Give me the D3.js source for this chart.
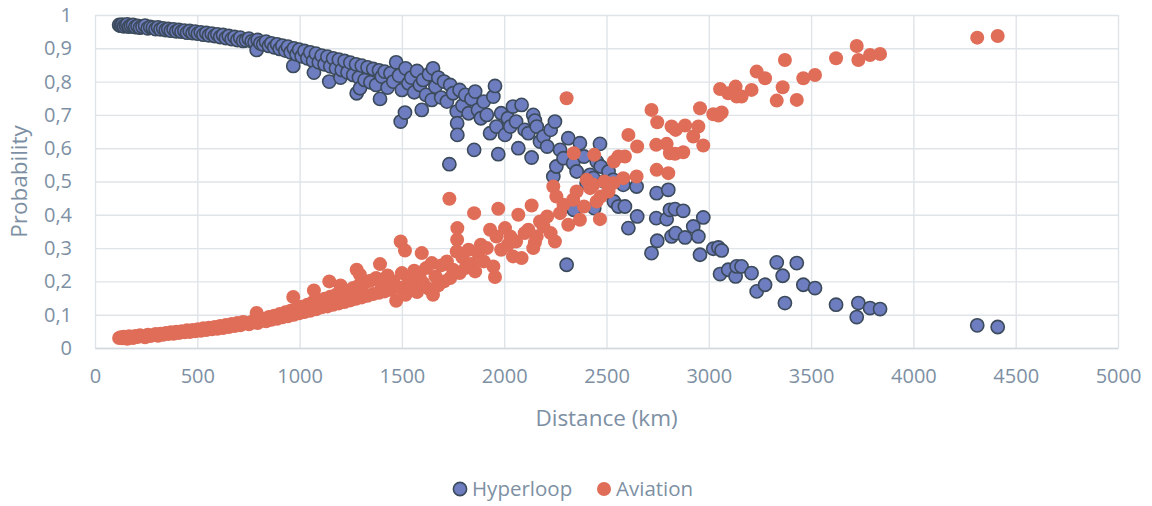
<!DOCTYPE html>
<html>
<head>
<meta charset="utf-8">
<script src="https://cdn.jsdelivr.net/npm/d3@7"></script>
<style>
  body { margin: 0; background: #fff; }
  text { font-family: "Open Sans", sans-serif; fill: #7d90a3; }
</style>
</head>
<body>
<div class="chart"></div>
<script>
// Data: distance (km) and choice probabilities per route
var distance = [
  118,126,133,141,150,158,167,176,186,197,
  208,220,232,245,258,270,283,296,308,320,
  333,346,358,371,384,397,410,423,437,450,
  463,477,490,503,517,530,544,557,571,585,
  598,612,626,640,654,668,682,696,710,724,
  738,752,766,780,790,795,808,822,836,850,
  862,876,890,903,916,930,943,956,969,972,
  985,998,1010,1024,1038,1052,1066,1070,1080,1094,
  1108,1122,1136,1145,1150,1164,1178,1192,1200,1206,
  1220,1234,1248,1262,1276,1279,1290,1295,1304,1318,
  1332,1346,1360,1374,1388,1393,1402,1416,1430,1444,
  1458,1472,1486,1494,1500,1515,1518,1532,1546,1560,
  1574,1588,1597,1604,1618,1632,1646,1652,1664,1678,
  1692,1706,1720,1732,1736,1750,1768,1770,1771,1782,
  1796,1810,1826,1840,1853,1858,1872,1886,1900,1915,
  1931,1947,1955,1962,1971,1985,2004,2018,2030,2043,
  2058,2069,2085,2100,2118,2134,2142,2150,2159,2175,
  2192,2210,2227,2240,2248,2255,2273,2290,2305,2313,
  2337,2340,2354,2370,2390,2403,2420,2436,2440,2452,
  2468,2472,2490,2510,2533,2536,2558,2582,2590,2607,
  2647,2650,2720,2743,2745,2748,2794,2802,2810,2818,
  2835,2838,2875,2884,2924,2949,2957,2973,3022,3047,
  3055,3063,3095,3131,3136,3160,3209,3234,3275,3332,
  3361,3372,3430,3462,3519,3622,3723,3731,3788,3837,
  4312,4412
];

var hyperloop = [
  .970,.968,.971,.966,.969,.972,.965,.968,.970,.964,
  .967,.962,.965,.968,.960,.964,.962,.958,.963,.957,
  .960,.955,.958,.953,.957,.951,.955,.950,.953,.947,
  .952,.946,.950,.944,.948,.941,.946,.939,.944,.937,
  .942,.934,.940,.931,.937,.928,.934,.925,.932,.922,
  .924,.929,.921,.918,.895,.925,.915,.912,.920,.907,
  .915,.903,.912,.898,.908,.893,.905,.888,.847,.900,
  .882,.896,.876,.892,.870,.888,.862,.827,.884,.858,
  .878,.852,.875,.800,.846,.870,.840,.866,.812,.835,
  .862,.828,.857,.820,.852,.765,.812,.780,.848,.805,
  .843,.798,.838,.790,.834,.748,.815,.830,.782,.825,
  .800,.858,.818,.680,.775,.707,.840,.795,.812,.768,
  .832,.790,.715,.805,.760,.822,.745,.840,.785,.812,
  .752,.800,.740,.552,.790,.765,.710,.675,.640,.775,
  .728,.760,.705,.748,.595,.770,.715,.690,.740,.700,
  .645,.755,.787,.665,.582,.705,.640,.690,.665,.725,
  .680,.600,.730,.655,.645,.572,.700,.683,.665,.620,
  .635,.605,.655,.515,.680,.545,.595,.570,.250,.630,
  .555,.415,.530,.615,.575,.495,.520,.510,.420,.560,
  .613,.545,.500,.530,.505,.440,.425,.490,.425,.360,
  .485,.395,.285,.390,.465,.322,.387,.475,.415,.335,
  .417,.345,.412,.332,.365,.335,.280,.392,.298,.302,
  .222,.293,.235,.215,.245,.245,.225,.170,.190,.257,
  .217,.135,.255,.190,.180,.130,.093,.135,.120,.117,
  .068,.063
];

var aviation = [
  .030,.032,.029,.034,.031,.028,.035,.032,.030,.036,
  .033,.038,.035,.032,.040,.036,.038,.042,.037,.043,
  .040,.045,.042,.047,.043,.049,.045,.050,.047,.053,
  .048,.054,.050,.056,.052,.059,.054,.061,.056,.063,
  .058,.066,.060,.069,.063,.072,.066,.075,.068,.078,
  .076,.071,.079,.082,.105,.075,.085,.088,.080,.093,
  .085,.097,.088,.102,.092,.107,.095,.112,.153,.100,
  .118,.104,.124,.108,.130,.112,.138,.173,.116,.142,
  .122,.148,.125,.200,.154,.130,.160,.134,.188,.165,
  .138,.172,.143,.180,.148,.235,.188,.220,.152,.195,
  .157,.202,.162,.210,.166,.252,.185,.170,.218,.175,
  .200,.142,.182,.320,.225,.293,.160,.205,.188,.232,
  .168,.210,.285,.195,.240,.178,.255,.160,.215,.188,
  .248,.200,.260,.448,.210,.235,.290,.325,.360,.225,
  .272,.240,.295,.252,.405,.230,.285,.310,.260,.300,
  .355,.245,.213,.335,.418,.295,.360,.310,.335,.275,
  .320,.400,.270,.345,.355,.428,.300,.317,.335,.380,
  .365,.395,.345,.485,.320,.455,.405,.430,.750,.370,
  .445,.585,.470,.385,.425,.505,.480,.490,.580,.440,
  .387,.455,.500,.470,.495,.560,.575,.510,.575,.640,
  .515,.605,.715,.610,.535,.678,.613,.525,.585,.665,
  .583,.655,.588,.668,.635,.665,.720,.608,.702,.698,
  .778,.707,.765,.785,.755,.755,.775,.830,.810,.743,
  .783,.865,.745,.810,.820,.870,.907,.865,.880,.883,
  .932,.937
];

var xTicks = [0, 500, 1000, 1500, 2000, 2500, 3000, 3500, 4000, 4500, 5000];
var yTicks = [0, 0.1, 0.2, 0.3, 0.4, 0.5, 0.6, 0.7, 0.8, 0.9, 1];
var seriesNames = ["Hyperloop", "Aviation"];

var svgWidth = 1152;
var svgHeight = 506;
var margin = { top: 15, right: 34, bottom: 158, left: 95 };
var chartWidth = svgWidth - margin.left - margin.right;
var chartHeight = svgHeight - margin.top - margin.bottom;

var svg = d3.select(".chart").append("svg")
  .attr("width", svgWidth)
  .attr("height", svgHeight);

var chartGroup = svg.append("g")
  .attr("transform", `translate(${margin.left}, ${margin.top})`);

var xScale = d3.scaleLinear().domain([0, 5000]).range([0, chartWidth]);
var yScale = d3.scaleLinear().domain([0, 1]).range([chartHeight, 0]);

// gridlines
chartGroup.append("g")
  .call(d3.axisBottom(xScale).tickValues(xTicks).tickSize(-chartHeight).tickFormat(""))
  .attr("transform", `translate(0, ${chartHeight})`)
  .call(g => g.select(".domain").remove())
  .selectAll("line").attr("stroke", "#dfe4e9").attr("stroke-width", 1.4);

chartGroup.append("g")
  .call(d3.axisLeft(yScale).tickValues(yTicks).tickSize(-chartWidth).tickFormat(""))
  .call(g => g.select(".domain").remove())
  .selectAll("line").attr("stroke", "#dfe4e9").attr("stroke-width", 1.4);

// bottom axis with labels (no thousands separator)
var bottomAxis = chartGroup.append("g")
  .attr("transform", `translate(0, ${chartHeight})`)
  .call(d3.axisBottom(xScale).tickValues(xTicks).tickSize(0).tickPadding(21)
    .tickFormat(d => String(d)));
bottomAxis.select(".domain").attr("stroke", "#d3d9df").attr("stroke-width", 1.6);
bottomAxis.selectAll("text").style("font-size", "20px").attr("fill", "#7d90a3");

// left axis, comma as decimal mark
var leftAxis = chartGroup.append("g")
  .call(d3.axisLeft(yScale).tickValues(yTicks).tickSize(0).tickPadding(23)
    .tickFormat(d => String(d3.format("~g")(d)).replace(".", ",")));
leftAxis.select(".domain").remove();
leftAxis.selectAll("text").style("font-size", "20px").attr("fill", "#7d90a3");

// points
var points = distance.map((d, i) => ({ d: d, h: hyperloop[i], a: aviation[i] }));

chartGroup.append("g").selectAll("circle")
  .data(points)
  .enter()
  .append("circle")
  .attr("cx", p => xScale(p.d))
  .attr("cy", p => yScale(p.h))
  .attr("r", 6.6)
  .attr("fill", "#6e7dbf")
  .attr("stroke", "#3c4b5c")
  .attr("stroke-width", 1.6);

chartGroup.append("g").selectAll("circle")
  .data(points)
  .enter()
  .append("circle")
  .attr("cx", p => xScale(p.d))
  .attr("cy", p => yScale(p.a))
  .attr("r", 7)
  .attr("fill", "#df6d58");

// axis titles
svg.append("text")
  .attr("x", margin.left + chartWidth / 2)
  .attr("y", 418)
  .attr("dy", "0.35em")
  .attr("text-anchor", "middle")
  .style("font-size", "22.5px")
  .text("Distance (km)");

svg.append("text")
  .attr("transform", `translate(19, ${margin.top + chartHeight / 2}) rotate(-90)`)
  .attr("dy", "0.35em")
  .attr("text-anchor", "middle")
  .style("font-size", "22.5px")
  .text("Probability");

// legend
var legend = svg.append("g");
legend.append("circle").attr("cx", 460).attr("cy", 489).attr("r", 6.6)
  .attr("fill", "#6e7dbf").attr("stroke", "#3c4b5c").attr("stroke-width", 1.6);
legend.append("text").attr("x", 472).attr("y", 489).attr("dy", "0.35em")
  .style("font-size", "20.5px").text(seriesNames[0]);
legend.append("circle").attr("cx", 604).attr("cy", 489).attr("r", 7)
  .attr("fill", "#df6d58");
legend.append("text").attr("x", 616).attr("y", 489).attr("dy", "0.35em")
  .style("font-size", "20.5px").text(seriesNames[1]);
</script>
</body>
</html>
